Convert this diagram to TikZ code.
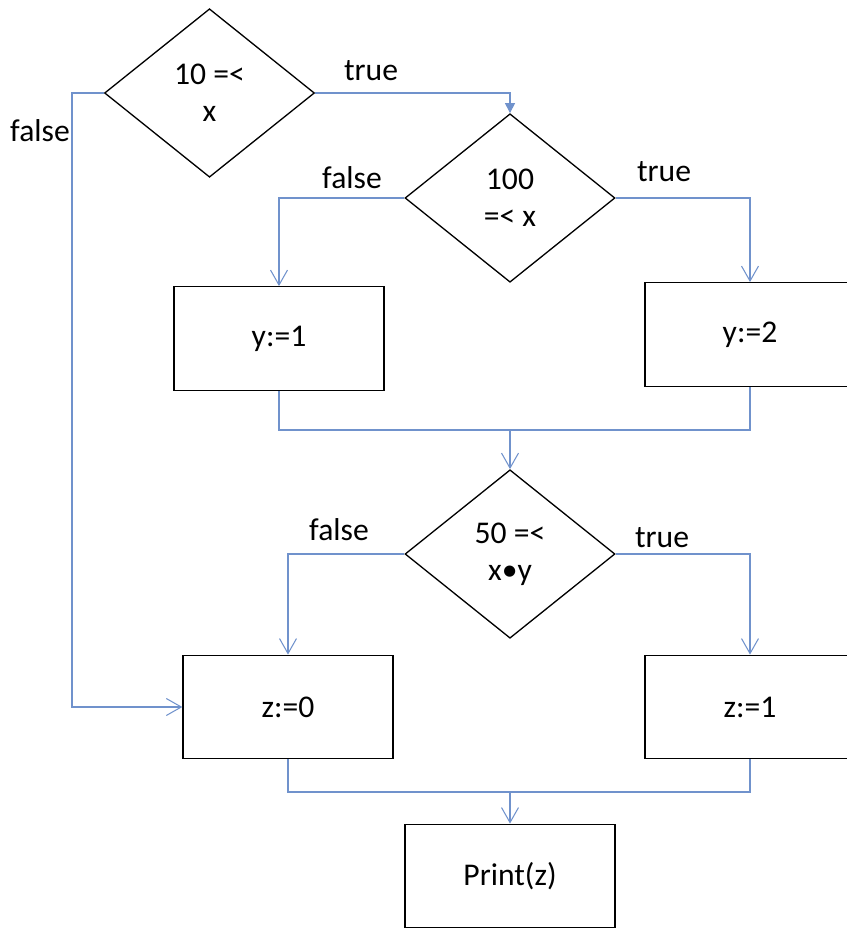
\documentclass[tikz,border=0pt]{standalone}
\usepackage{fontspec}
\setmainfont{Carlito}
\usetikzlibrary{shapes.geometric,arrows.meta}
\definecolor{flowblue}{RGB}{112,146,204}
\begin{document}
\begin{tikzpicture}[x=0.02cm,y=-0.02cm,
  every node/.style={font=\fontsize{18}{21}\selectfont},
  test/.style={diamond,draw,line width=0.75pt,inner sep=0pt,align=center,
    minimum width=4.2cm,minimum height=3.37cm},
  stmt/.style={rectangle,draw,line width=0.75pt,minimum width=4.2cm,minimum height=2.07cm},
  lbl/.style={inner sep=0pt},
  flow/.style={draw=flowblue,line width=0.6pt,-{Straight Barb[length=0.3cm,width=0.34cm]}},
  wire/.style={draw=flowblue,line width=0.6pt}]
 \useasboundingbox (0,0) rectangle (846,929);
 % decisions
 \node[test] (d1) at (209.5,93) {10 =<\\x};
 \node[test] (d2) at (510,198) {100\\=< x};
 \node[test] (d3) at (510,554) {50 =<\\x\textbullet y};
 % statements
 \node[stmt] (y1) at (279,338.5) {y:=1};
 \node[stmt] (y2) at (750,334.5) {y:=2};
 \node[stmt] (z0) at (288,707) {z:=0};
 \node[stmt] (z1) at (750,707) {z:=1};
 \node[stmt] (pr) at (510,876) {Print(z)};
 % branch labels
 \node[lbl] (f1) at (40,131) {false};
 \node[lbl] (t1) at (371,71) {true};
 \node[lbl] (f2) at (352,178) {false};
 \node[lbl] (t2) at (664,172) {true};
 \node[lbl] (f3) at (339,530) {false};
 \node[lbl] (t3) at (662,538) {true};
 % bends and merge points
 \coordinate (fl) at (72,93);
 \coordinate (m1) at (510,430);
 \coordinate (m2) at (510,792);
 % connectors
 \draw[flow] (d1.west) -- (fl) |- (z0.west);
 \draw[wire,-{Triangle[length=0.2cm,width=0.2cm]}] (d1.east) -| (d2.north);
 \draw[flow] (d2.west) -| (y1.north);
 \draw[flow] (d2.east) -| (y2.north);
 \draw[wire] (y1.south) |- (m1);
 \draw[wire] (y2.south) |- (m1);
 \draw[flow] (m1) -- (d3.north);
 \draw[flow] (d3.west) -| (z0.north);
 \draw[flow] (d3.east) -| (z1.north);
 \draw[wire] (z0.south) |- (m2);
 \draw[wire] (z1.south) |- (m2);
 \draw[flow] (m2) -- (pr.north);
\end{tikzpicture}
\end{document}
